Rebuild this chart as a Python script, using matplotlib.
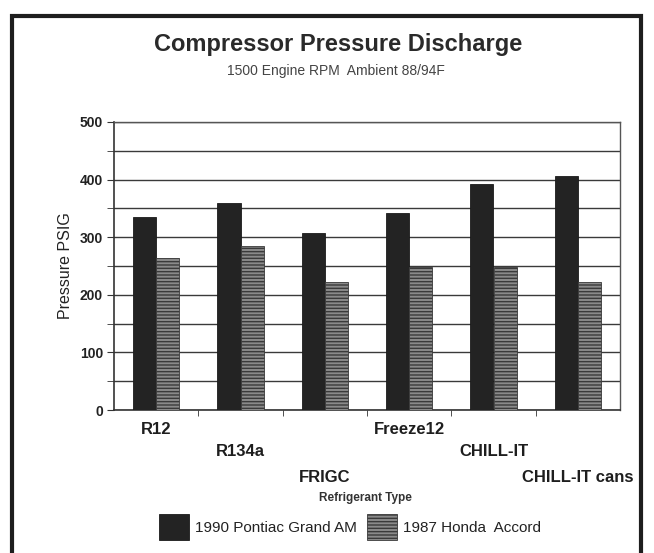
import matplotlib
matplotlib.use("Agg")
import matplotlib.pyplot as plt
import numpy as np
from matplotlib.patches import Rectangle

categories = ["R12", "R134a", "FRIGC", "Freeze12", "CHILL-IT", "CHILL-IT cans"]
pontiac = [335, 359, 307, 342, 392, 406]
honda = [264, 285, 222, 248, 248, 222]
series_names = ["1990 Pontiac Grand AM", "1987 Honda  Accord"]

plt.rcParams['font.family'] = ['Liberation Sans', 'DejaVu Sans']
plt.rcParams['hatch.color'] = '#2a2a2a'
plt.rcParams['hatch.linewidth'] = 1.0

fig = plt.figure(figsize=(6.54, 5.53), dpi=100)
fig.patch.set_facecolor('white')

# outer frame
fig.patches.append(Rectangle((12/654, -0.02), 629/654, 1 - 16/553 + 0.02,
                             transform=fig.transFigure, fill=False,
                             edgecolor='#1e1e1e', linewidth=3))

ax = fig.add_axes([114/654, 1 - 410/553, 506/654, 288/553])
x = np.arange(len(categories))
w = 0.275
b1 = ax.bar(x - w/2, pontiac, w, color='#232323', edgecolor='#1a1a1a', linewidth=0.6,
            label=series_names[0], zorder=3)
b2 = ax.bar(x + w/2, honda, w, color='#8a8a8a', edgecolor='#3a3a3a', linewidth=0.6,
            hatch='-----', label=series_names[1], zorder=3)

ax.set_xlim(-0.5, len(categories) - 0.5)
ax.set_ylim(0, 500)
ax.set_yticks(np.arange(0, 501, 100))
ax.set_yticks(np.arange(50, 500, 100), minor=True)
ax.yaxis.grid(True, which='both', color='#3a3a3a', linewidth=1.0, zorder=0)
ax.set_axisbelow(True)
for lab in ax.get_yticklabels():
    lab.set_fontweight('bold')
    lab.set_fontsize(10)
    lab.set_color('#222222')
ax.tick_params(axis='y', which='both', length=5, color='#333333', pad=3)

ax.set_xticks(x)
ax.set_xticklabels([])
ax.tick_params(axis='x', which='major', length=0)
ax.set_xticks(np.arange(0.5, len(categories) - 0.5, 1), minor=True)
ax.tick_params(axis='x', which='minor', length=4, color='#333333', direction='out')

# staggered category labels (offsets in pixels below the axis)
px = 72 / 100
offsets = [20, 42, 68, 20, 42, 68]
for xi, cat, off in zip(x, categories, offsets):
    ax.annotate(cat, xy=(xi, 0), xycoords=('data', 'axes fraction'),
                xytext=(0, -off * px), textcoords='offset points',
                ha='center', va='center', fontsize=12, fontweight='bold',
                color='#1e1e1e')

for s in ['left', 'bottom']:
    ax.spines[s].set_color('#333333')
    ax.spines[s].set_linewidth(1.2)
for s in ['top', 'right']:
    ax.spines[s].set_color('#555555')
    ax.spines[s].set_linewidth(1.0)

ax.set_ylabel("Pressure PSIG", fontsize=11.5, color='#222222', labelpad=5)

fig.text(338/654, 1 - 45/553, "Compressor Pressure Discharge", ha='center', va='center',
         fontsize=17, fontweight='bold', color='#2a2a2a')
fig.text(336/654, 1 - 71/553, "1500 Engine RPM  Ambient 88/94F", ha='center', va='center',
         fontsize=10, color='#444444')
fig.text(365/654, 1 - 498/553, "Refrigerant Type", ha='center', va='center',
         fontsize=8.5, fontweight='bold', color='#333333')

leg = fig.legend(handles=[b1, b2], labels=series_names, loc='center',
                 bbox_to_anchor=(350/654, 1 - 527/553), ncol=2, frameon=False,
                 fontsize=11, handlelength=2.0, handleheight=2.2,
                 handletextpad=0.4, columnspacing=0.6)
for t in leg.get_texts():
    t.set_color('#222222')

fig.savefig("out.png", dpi=100, facecolor='white')
